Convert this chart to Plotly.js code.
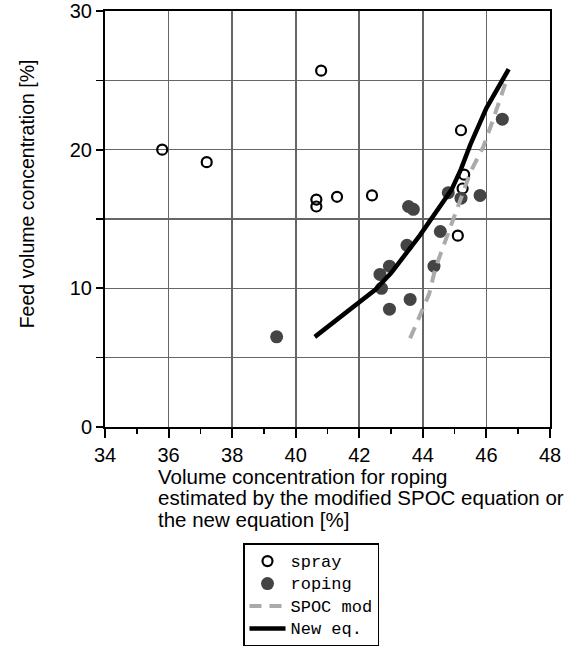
<!DOCTYPE html>
<html>
<head>
<meta charset="utf-8">
<script src="https://cdn.plot.ly/plotly-3.0.1.min.js"></script>
<style>html,body{margin:0;padding:0;background:#fff;}#chart{width:578px;height:657px;}</style>
</head>
<body>
<div id="chart"></div>
<script>
// Data
const sprayX = [35.8, 37.2, 40.8, 40.65, 40.65, 41.3, 42.4, 45.2, 45.3, 45.25, 45.1];
const sprayY = [20.0, 19.1, 25.7, 16.4, 15.9, 16.6, 16.7, 21.4, 18.2, 17.2, 13.8];

const ropingX = [39.4, 42.95, 43.6, 42.7, 42.65, 42.95, 43.5, 44.35, 44.55, 43.55, 43.7, 44.8, 45.2, 45.8, 46.5];
const ropingY = [6.5, 8.5, 9.2, 10.0, 11.0, 11.6, 13.1, 11.6, 14.1, 15.9, 15.7, 16.9, 16.5, 16.7, 22.2];

const spocX = [43.6, 44.2, 44.4, 44.7, 45.2, 45.5, 45.9, 46.2, 46.6];
const spocY = [6.4, 9.6, 11.5, 13.3, 16.5, 18.4, 20.2, 22.1, 24.8];

const newX = [40.6, 42.5, 43.0, 43.9, 44.9, 45.2, 45.5, 46.0, 46.7];
const newY = [6.5, 9.9, 11.1, 13.8, 17.1, 18.6, 20.4, 23.0, 25.8];

const xTicks = [34, 36, 38, 40, 42, 44, 46, 48];
const yTicks = [0, 10, 20, 30];

const legendNames = ['spray', 'roping', 'SPOC mod', 'New eq.'];
const xTitleLines = ['Volume concentration for roping',
                     'estimated by the modified SPOC equation or',
                     'the new equation [%]'];
const yTitle = 'Feed volume concentration [%]';

const big = s => '<span style="font-size:17px">' + s + '</span>';

const traces = [
  {x: sprayX, y: sprayY, name: big(legendNames[0]), type: 'scatter', mode: 'markers',
   marker: {symbol: 'circle-open', size: 10, color: '#000', line: {width: 2.2, color: '#000'}}},
  {x: ropingX, y: ropingY, name: big(legendNames[1]), type: 'scatter', mode: 'markers',
   marker: {symbol: 'circle', size: 13, color: '#444'}},
  {x: spocX, y: spocY, name: big(legendNames[2]), type: 'scatter', mode: 'lines',
   line: {color: '#aaaaaa', width: 4, dash: '12px,8px'}},
  {x: newX, y: newY, name: big(legendNames[3]), type: 'scatter', mode: 'lines',
   line: {color: '#000', width: 4.5}}
];

const PL = 105, PR = 550, PT = 11, PB = 433;
const px2x = p => (p - PL) / (PR - PL);
const px2y = p => (PB - p) / (PB - PT);

const annotations = xTitleLines.map((t, i) => ({
  xref: 'paper', yref: 'paper', x: px2x(156), y: px2y([483, 505, 527][i]),
  xanchor: 'left', yanchor: 'middle', showarrow: false, text: t,
  font: {size: 20.5}
}));
annotations.push({
  xref: 'paper', yref: 'paper', x: px2x(27), y: px2y(197),
  xanchor: 'center', yanchor: 'middle', showarrow: false, textangle: -90,
  text: yTitle, font: {size: 19.5}
});

const layout = {
  width: 578, height: 657,
  margin: {l: PL, r: 578 - PR, t: PT, b: 657 - PB},
  paper_bgcolor: '#fff', plot_bgcolor: '#fff',
  font: {family: 'Liberation Sans, Arial, sans-serif', color: '#000', size: 18},
  showlegend: true,
  xaxis: {
    range: [34, 48], tickvals: xTicks, ticktext: xTicks.map(String),
    showgrid: true, gridcolor: '#666', gridwidth: 1.6,
    showline: true, linecolor: '#000', linewidth: 2, mirror: true,
    ticks: 'outside', ticklen: 9, tickwidth: 2, tickcolor: '#000',
    minor: {dtick: 1, ticks: 'outside', ticklen: 5, tickwidth: 1.5, tickcolor: '#000', showgrid: false},
    zeroline: false, fixedrange: true,
    tickfont: {size: 20}
  },
  yaxis: {
    range: [0, 30], tickvals: yTicks, ticktext: yTicks.map(String),
    showgrid: true, gridcolor: '#666', gridwidth: 1.6,
    showline: true, linecolor: '#000', linewidth: 2, mirror: true,
    ticks: 'outside', ticklen: 7, tickwidth: 2, tickcolor: '#000',
    minor: {dtick: 5, ticks: 'outside', ticklen: 7, tickwidth: 1.5, tickcolor: '#000', showgrid: true, gridcolor: '#666', gridwidth: 1.6},
    zeroline: false, fixedrange: true, ticklabeloverflow: 'allow',
    tickfont: {size: 20}
  },
  legend: {
    x: px2x(243), y: px2y(551), xanchor: 'left', yanchor: 'top',
    bordercolor: '#000', borderwidth: 1.5, bgcolor: '#fff',
    font: {family: 'Liberation Mono, Courier New, monospace', size: 15},
    tracegroupgap: 0, itemwidth: 36
  },
  annotations: annotations
};

Plotly.newPlot('chart', traces, layout, {displayModeBar: false, staticPlot: true});
</script>
</body>
</html>
